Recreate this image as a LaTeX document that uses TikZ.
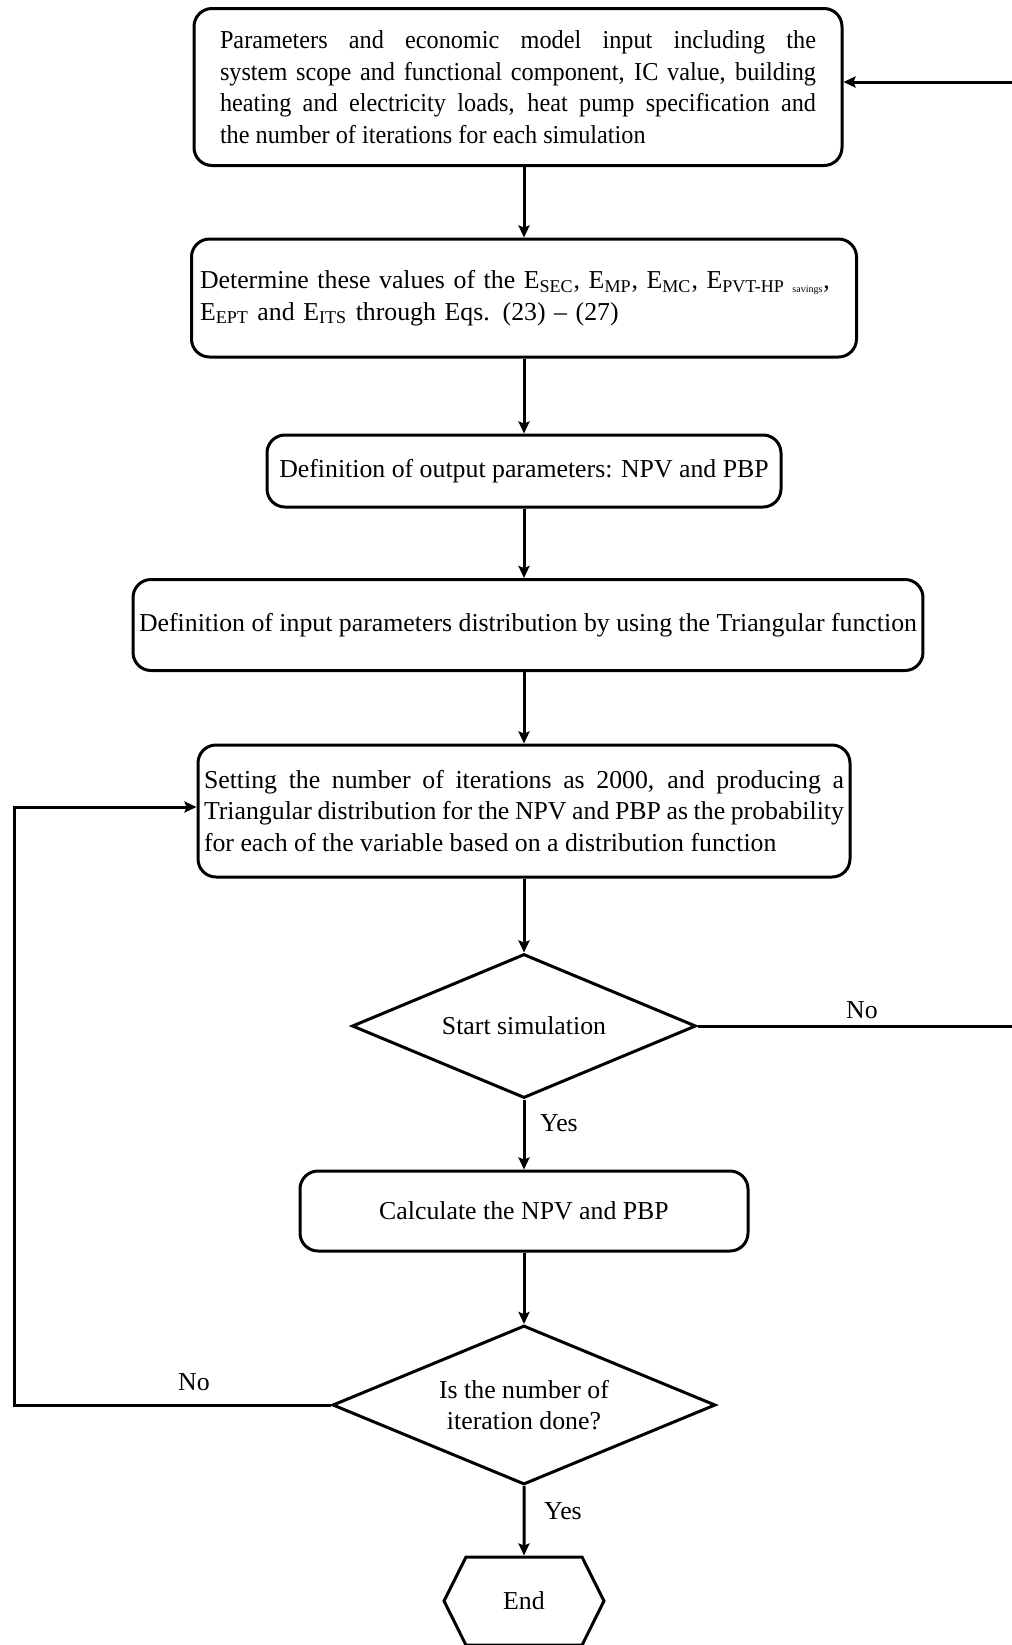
\documentclass[tikz,border=0pt]{standalone}
\usepackage{fontspec}
\setmainfont{Liberation Serif}
\usetikzlibrary{shapes.geometric,shapes.symbols,arrows.meta}
\newcommand{\figfont}{\fontsize{12.9}{15.75}\selectfont}
\newcommand{\Esub}[1]{E\textsubscript{#1}}

\tikzset{
  flowbox/.style={draw, line width=1.5pt, rounded corners=9pt, inner sep=3pt, font=\figfont},
  decision/.style={draw, diamond, line width=1.5pt, inner sep=0pt, aspect=2.4, font=\figfont, align=center},
  endbox/.style={draw, signal, signal to=west and east, signal pointer angle=127, line width=1.5pt, font=\figfont},
  arr/.style={line width=1.5pt, -{Stealth[length=6pt,width=5.5pt,inset=1pt]}},
  lbl/.style={font=\figfont}
}

\begin{document}
\begin{tikzpicture}[x=0.5pt,y=-0.5pt]
\useasboundingbox (0,0) rectangle (1012,1645);
% process steps
\node[flowbox, font={\figfont\addfontfeature{FakeStretch=0.94}}, text width=298pt, align=justify, minimum width=324pt, minimum height=78.5pt] (input) at (518,87)
  {\hyphenpenalty=10000 Parameters and economic model input including the\linebreak system scope and functional component, IC value, building\linebreak heating and electricity loads, heat pump specification and\linebreak the number of iterations for each simulation};
\node[flowbox, text width=324pt, align=left, minimum width=332.5pt, minimum height=59pt] (evalues) at (524,298)
  {Determine these values of the \Esub{SEC}, \Esub{MP}, \Esub{MC}, \Esub{PVT-HP {\tiny savings}},\\ \Esub{EPT} and \Esub{ITS} through Eqs. (23) -- (27)};
\node[flowbox, minimum width=257pt, minimum height=36pt] (outpar) at (524,471)
  {Definition of output parameters: NPV and PBP};
\node[flowbox, minimum width=393.5pt, minimum height=45.5pt] (inpdist) at (528,625)
  {Definition of input parameters distribution by using the Triangular function};
\node[flowbox, text width=320pt, align=justify, minimum width=326pt, minimum height=66pt] (iterset) at (524,811)
  {Setting the number of iterations as 2000, and producing a\linebreak Triangular distribution for the NPV and PBP as the probability\\ for each of the variable based on a distribution function};
\node[decision, minimum width=172pt, minimum height=72pt] (startsim) at (524,1026) {Start simulation};
\node[flowbox, minimum width=224pt, minimum height=40pt] (calcnpv) at (524,1211) {Calculate the NPV and PBP};
\node[decision, minimum width=191.5pt, minimum height=79.5pt] (iterdone) at (524,1405) {Is the number of\\ iteration done?};
\node[endbox, minimum width=80pt, minimum height=44pt] (finish) at (524,1601) {End};

% labels
\node[lbl] (nostart) at (862,1010) {No};
\node[lbl] (yesstart) at (559,1123) {Yes};
\node[lbl] (noiter) at (194,1382) {No};
\node[lbl] (yesiter) at (563,1511) {Yes};

% connectors
\draw[arr] (input.south -| evalues) -- (evalues);
\draw[arr] (evalues) -- (outpar);
\draw[arr] (outpar) -- (outpar |- inpdist.north);
\draw[arr] (inpdist.south -| iterset) -- (iterset);
\draw[arr] (iterset) -- (startsim);
\draw[arr] (startsim) -- (calcnpv);
\draw[arr] (calcnpv) -- (iterdone);
\draw[arr] (iterdone) -- (finish);
\coordinate (backright) at (1040,1026);
\draw[arr] (startsim.east) -- (backright) |- ([yshift=2.5pt]input.east);
\coordinate (backleft) at (14,1405);
\draw[arr] (iterdone.west) -- (backleft) |- ([yshift=2pt]iterset.west);
\end{tikzpicture}
\end{document}
